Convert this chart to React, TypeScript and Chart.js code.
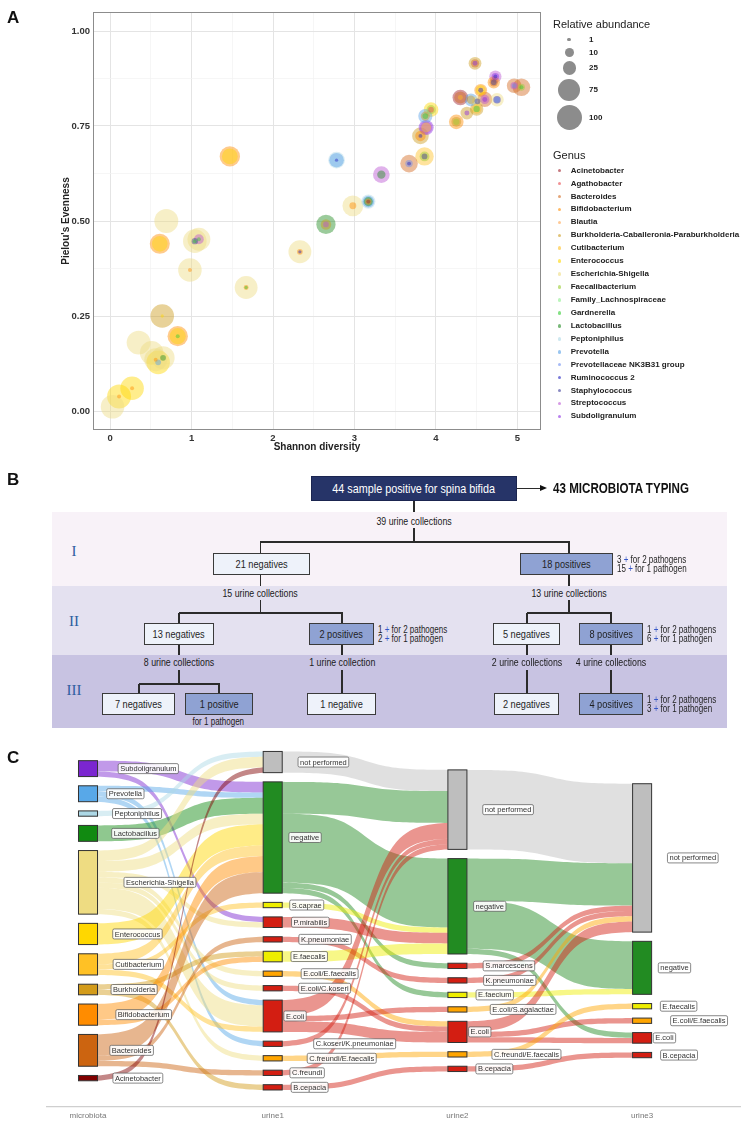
import React, { useEffect, useRef } from 'react';
import { Chart, registerables } from 'chart.js';
Chart.register(...registerables);

const SANS = "'Liberation Sans', Arial, Helvetica, sans-serif";
const NARROW = "'Liberation Sans Narrow', 'Liberation Sans', Arial, sans-serif";
const SERIF = "'Liberation Serif', 'DejaVu Serif', serif";
const SQUEEZE = 0.8;

// ---------------- Panel A data ----------------
const genera = [
  'Acinetobacter', 'Agathobacter', 'Bacteroides', 'Bifidobacterium', 'Blautia',
  'Burkholderia-Caballeronia-Paraburkholderia', 'Cutibacterium', 'Enterococcus',
  'Escherichia-Shigella', 'Faecalibacterium', 'Family_Lachnospiraceae', 'Gardnerella',
  'Lactobacillus', 'Peptoniphilus', 'Prevotella', 'Prevotellaceae NK3B31 group',
  'Ruminococcus 2', 'Staphylococcus', 'Streptococcus', 'Subdoligranulum',
];
const genusColors = [
  '#A0202A', '#E8474C', '#D2691E', '#FF8C00', '#FFA54F',
  '#CD9B1D', '#FFC125', '#FFD700', '#EEDC82', '#9ACD32',
  '#90EE90', '#32CD32', '#228B22', '#ADD8E6', '#56A0E6',
  '#6A8CF0', '#2020C0', '#3A3A9A', '#BA55D3', '#8A2BE2',
];
const sizeBreaks = [1, 10, 25, 75, 100];
const shannonMajorTicks = [0, 1, 2, 3, 4, 5];
const shannonMinorTicks = [0.5, 1.5, 2.5, 3.5, 4.5];
const evennessMajorTicks = [0, 0.25, 0.5, 0.75, 1];
const evennessMinorTicks = [0.125, 0.375, 0.625, 0.875];

const shannon = [
  0.03, 0.11, 0.27, 0.35, 0.51, 0.56, 0.59, 0.65, 0.64, 0.83,
  0.61, 0.69, 0.98, 1.04, 1.09, 1.47, 1.67, 2.33, 2.65, 2.78,
  2.98, 3.17, 3.33, 3.67, 3.86, 3.81, 3.88, 3.87, 3.94, 4.25,
  4.30, 4.38, 4.43, 4.50, 4.51, 4.60, 4.55, 4.48, 4.73, 4.71,
  4.75, 4.96, 5.05,
];
const evenness = [
  0.011, 0.038, 0.060, 0.180, 0.153, 0.135, 0.128, 0.140, 0.250, 0.197,
  0.440, 0.500, 0.371, 0.447, 0.452, 0.670, 0.325, 0.419, 0.491, 0.660,
  0.540, 0.551, 0.622, 0.651, 0.670, 0.724, 0.746, 0.776, 0.793, 0.761,
  0.825, 0.784, 0.819, 0.795, 0.815, 0.820, 0.844, 0.915, 0.880, 0.865,
  0.819, 0.856, 0.852,
];
// [genus index, relative abundance %]
const composition: [number, number][][] = [
  [[8, 85]], [[7, 88], [3, 1]], [[7, 85], [3, 1]], [[8, 88]], [[8, 85]],
  [[8, 80], [3, 1]], [[7, 85], [14, 3]], [[8, 82], [12, 3]], [[5, 85], [7, 0.5]], [[3, 62], [7, 38], [11, 1]],
  [[3, 60], [7, 35]], [[8, 88]], [[8, 85], [3, 1]], [[8, 85], [17, 4], [11, 1]], [[8, 80], [18, 12], [11, 1]],
  [[3, 62], [7, 36]], [[8, 80], [3, 2], [11, 0.5]], [[8, 80], [3, 3], [16, 0.5]], [[12, 55], [5, 14], [18, 3]], [[13, 40], [14, 30], [16, 0.5]],
  [[8, 65], [3, 5]], [[13, 28], [14, 18], [12, 10], [3, 4], [0, 1]], [[18, 40], [12, 8]], [[2, 45], [15, 6], [16, 1]], [[6, 50], [9, 12], [17, 3]],
  [[5, 40], [3, 14], [16, 1]], [[19, 32], [18, 20], [6, 12]], [[14, 28], [5, 10], [11, 3]], [[7, 30], [9, 10], [1, 3]], [[3, 30], [5, 12], [9, 4]],
  [[0, 35], [2, 20], [6, 2]], [[5, 22], [19, 2]], [[14, 22], [5, 8]], [[5, 25], [6, 12], [11, 4]], [[8, 15], [17, 3]],
  [[2, 32], [18, 10], [19, 2]], [[3, 22], [7, 12], [16, 2]], [[5, 22], [2, 8], [19, 2]], [[18, 20], [19, 6], [16, 1]], [[3, 20], [2, 8], [17, 3]],
  [[8, 25], [16, 6], [15, 3]], [[2, 30], [18, 6], [15, 2]], [[2, 45], [9, 5], [11, 1]],
];

// ---------------- Panel C data ----------------
const sankeyColumns = ['microbiota', 'urine1', 'urine2', 'urine3'];
const microbiotaNodes = [
  'Subdoligranulum', 'Prevotella', 'Peptoniphilus', 'Lactobacillus', 'Escherichia-Shigella',
  'Enterococcus', 'Cutibacterium', 'Burkholderia', 'Bifidobacterium', 'Bacteroides', 'Acinetobacter',
];
const microbiotaColors = [
  '#7B26D0', '#58A8E8', '#ADD8E6', '#118A11', '#EEDC82',
  '#FFD700', '#FFC125', '#D39B1A', '#FF8C00', '#CC6410', '#800000',
];
const urine1Nodes = [
  'not performed', 'negative', 'S.caprae', 'P.mirabilis', 'K.pneumoniae', 'E.faecalis',
  'E.coli/E.faecalis', 'E.coli/C.koseri', 'E.coli', 'C.koseri/K.pneumoniae',
  'C.freundi/E.faecalis', 'C.freundi', 'B.cepacia',
];
const urine2Nodes = [
  'not performed', 'negative', 'S.marcescens', 'K.pneumoniae', 'E.faecium',
  'E.coli/S.agalactiae', 'E.coli', 'C.freundi/E.faecalis', 'B.cepacia',
];
const urine3Nodes = ['not performed', 'negative', 'E.faecalis', 'E.coli/E.faecalis', 'E.coli', 'B.cepacia'];
const yellowResults = ['S.caprae', 'E.faecalis', 'E.faecium'];
const orangeResults = ['E.coli/E.faecalis', 'C.freundi/E.faecalis', 'E.coli/S.agalactiae'];

const linksMicrobiotaUrine1: [string, string, number][] = [
  ['Subdoligranulum', 'negative', 2], ['Subdoligranulum', 'P.mirabilis', 1],
  ['Prevotella', 'negative', 1], ['Prevotella', 'E.coli', 1], ['Prevotella', 'C.koseri/K.pneumoniae', 1],
  ['Peptoniphilus', 'not performed', 1],
  ['Lactobacillus', 'negative', 3],
  ['Escherichia-Shigella', 'not performed', 2], ['Escherichia-Shigella', 'negative', 2],
  ['Escherichia-Shigella', 'P.mirabilis', 1], ['Escherichia-Shigella', 'E.coli/E.faecalis', 1],
  ['Escherichia-Shigella', 'E.coli/C.koseri', 1], ['Escherichia-Shigella', 'E.coli', 4],
  ['Escherichia-Shigella', 'C.freundi/E.faecalis', 1],
  ['Enterococcus', 'negative', 4],
  ['Cutibacterium', 'negative', 2], ['Cutibacterium', 'S.caprae', 1], ['Cutibacterium', 'E.coli', 1],
  ['Burkholderia', 'E.faecalis', 1], ['Burkholderia', 'B.cepacia', 1],
  ['Bifidobacterium', 'negative', 3], ['Bifidobacterium', 'E.faecalis', 1],
  ['Bacteroides', 'negative', 4], ['Bacteroides', 'K.pneumoniae', 1], ['Bacteroides', 'C.freundi', 1],
  ['Acinetobacter', 'not performed', 1],
];
const linksUrine1Urine2: [string, string, number][] = [
  ['not performed', 'not performed', 4],
  ['negative', 'not performed', 6], ['negative', 'negative', 13], ['negative', 'S.marcescens', 1], ['negative', 'E.faecium', 1],
  ['S.caprae', 'negative', 1],
  ['P.mirabilis', 'negative', 2],
  ['K.pneumoniae', 'K.pneumoniae', 1],
  ['E.faecalis', 'negative', 2],
  ['E.coli/E.faecalis', 'E.coli', 1],
  ['E.coli/C.koseri', 'E.coli', 1],
  ['E.coli', 'not performed', 3], ['E.coli', 'E.coli/S.agalactiae', 1], ['E.coli', 'E.coli', 2],
  ['C.koseri/K.pneumoniae', 'not performed', 1],
  ['C.freundi/E.faecalis', 'C.freundi/E.faecalis', 1],
  ['C.freundi', 'not performed', 1],
  ['B.cepacia', 'B.cepacia', 1],
];
const linksUrine2Urine3: [string, string, number][] = [
  ['not performed', 'not performed', 15],
  ['negative', 'not performed', 8], ['negative', 'negative', 9], ['negative', 'E.coli', 1],
  ['S.marcescens', 'not performed', 1],
  ['K.pneumoniae', 'not performed', 1],
  ['E.faecium', 'negative', 1],
  ['E.coli/S.agalactiae', 'not performed', 1],
  ['E.coli', 'not performed', 2], ['E.coli', 'E.coli/E.faecalis', 1], ['E.coli', 'E.coli', 1],
  ['C.freundi/E.faecalis', 'E.faecalis', 1],
  ['B.cepacia', 'B.cepacia', 1],
];

const NODE_GAP = 1.74; // in sample units
const NODE_WIDTH = 0.103; // in column units

// ---------------- helpers ----------------
function hexToRgba(hex: string, a: number) {
  const n = parseInt(hex.slice(1), 16);
  return `rgba(${(n >> 16) & 255},${(n >> 8) & 255},${n & 255},${a})`;
}
function bubbleRadius(a: number) {
  return 0.8 + 1.19 * Math.sqrt(a);
}
function nodeColor(name: string, col: number) {
  if (col === 0) return microbiotaColors[microbiotaNodes.indexOf(name)];
  if (name === 'not performed') return '#BEBEBE';
  if (name === 'negative') return '#228B22';
  if (yellowResults.includes(name)) return '#EEEE00';
  if (orangeResults.includes(name)) return '#FFA500';
  return '#D31E12';
}

function sankeyLayout() {
  const columns = [microbiotaNodes, urine1Nodes, urine2Nodes, urine3Nodes];
  const stages = [linksMicrobiotaUrine1, linksUrine1Urine2, linksUrine2Urine3];
  const counts = columns.map(() => new Map<string, number>());
  stages.forEach((links, s) =>
    links.forEach(([a, b, n]) => {
      counts[s].set(a, (counts[s].get(a) || 0) + n);
      if (s === stages.length - 1) counts[s + 1].set(b, (counts[s + 1].get(b) || 0) + n);
    })
  );
  const nodes = columns.map((names, c) => {
    const total = names.reduce((t, nm) => t + (counts[c].get(nm) || 0), 0);
    let cursor = -(total + NODE_GAP * (names.length - 1)) / 2;
    return names.map((nm) => {
      const v = counts[c].get(nm) || 0;
      const node = { name: nm, col: c, y0: cursor, y1: cursor + v };
      cursor += v + NODE_GAP;
      return node;
    });
  });
  const flows: { stage: number; color: string; ys0: number; ys1: number; yt0: number; yt1: number }[] = [];
  stages.forEach((links, s) => {
    const src = nodes[s];
    const dst = nodes[s + 1];
    const iS = (nm: string) => src.findIndex((n) => n.name === nm);
    const iT = (nm: string) => dst.findIndex((n) => n.name === nm);
    const outOff = src.map((n) => n.y0);
    const inOff = dst.map((n) => n.y0);
    const byOut = [...links].sort((p, q) => iS(p[0]) - iS(q[0]) || iT(p[1]) - iT(q[1]));
    const byIn = [...links].sort((p, q) => iT(p[1]) - iT(q[1]) || iS(p[0]) - iS(q[0]));
    const tPos = new Map<any, number>();
    byIn.forEach((l) => {
      const j = iT(l[1]);
      tPos.set(l, inOff[j]);
      inOff[j] += l[2];
    });
    byOut.forEach((l) => {
      const i = iS(l[0]);
      const ys = outOff[i];
      outOff[i] += l[2];
      const yt = tPos.get(l) as number;
      flows.push({ stage: s, color: nodeColor(l[0], s), ys0: ys, ys1: ys + l[2], yt0: yt, yt1: yt + l[2] });
    });
  });
  return { nodes, flows };
}

function sig(t: number) {
  const k = 5.5;
  const f = (u: number) => 1 / (1 + Math.exp(-k * (2 * u - 1)));
  return (f(t) - f(0)) / (f(1) - f(0));
}

const panelBorder = {
  id: 'panelBorder',
  afterDatasetsDraw(chart: any) {
    const { ctx, chartArea } = chart;
    ctx.save();
    ctx.strokeStyle = '#8c8c8c';
    ctx.lineWidth = 1;
    ctx.strokeRect(chartArea.left + 0.5, chartArea.top + 0.5, chartArea.right - chartArea.left - 1, chartArea.bottom - chartArea.top - 1);
    ctx.restore();
  },
};

const sankeyPlugin = {
  id: 'sankeyPlugin',
  afterDatasetsDraw(chart: any) {
    const { ctx } = chart;
    const xs = chart.scales.x;
    const ys = chart.scales.y;
    const { nodes, flows } = sankeyLayout();
    const halfW = xs.getPixelForValue(NODE_WIDTH / 2) - xs.getPixelForValue(0);
    ctx.save();
    flows.forEach((f) => {
      const x0 = xs.getPixelForValue(f.stage) + halfW;
      const x1 = xs.getPixelForValue(f.stage + 1) - halfW;
      const a0 = ys.getPixelForValue(f.ys0), a1 = ys.getPixelForValue(f.ys1);
      const b0 = ys.getPixelForValue(f.yt0), b1 = ys.getPixelForValue(f.yt1);
      const N = 48;
      ctx.beginPath();
      for (let i = 0; i <= N; i++) {
        const t = i / N;
        const x = x0 + (x1 - x0) * t;
        const y = a0 + (b0 - a0) * sig(t);
        if (i === 0) ctx.moveTo(x, y); else ctx.lineTo(x, y);
      }
      for (let i = N; i >= 0; i--) {
        const t = i / N;
        ctx.lineTo(x0 + (x1 - x0) * t, a1 + (b1 - a1) * sig(t));
      }
      ctx.closePath();
      ctx.fillStyle = hexToRgba(f.color, 0.47);
      ctx.fill();
    });
    nodes.flat().forEach((n) => {
      const cx = xs.getPixelForValue(n.col);
      const top = ys.getPixelForValue(n.y0);
      const bot = ys.getPixelForValue(n.y1);
      ctx.fillStyle = nodeColor(n.name, n.col);
      ctx.fillRect(cx - halfW, top, halfW * 2, bot - top);
      ctx.strokeStyle = '#333';
      ctx.lineWidth = 1;
      ctx.strokeRect(cx - halfW, top, halfW * 2, bot - top);
    });
    ctx.font = `7.5px ${SANS}`;
    ctx.textBaseline = 'middle';
    nodes.flat().forEach((n) => {
      const cx = xs.getPixelForValue(n.col);
      const cy = (ys.getPixelForValue(n.y0) + ys.getPixelForValue(n.y1)) / 2;
      const w = ctx.measureText(n.name).width + 4;
      const h = 10;
      const left = cx + w / 2;
      ctx.beginPath();
      (ctx as any).roundRect(left, cy - h / 2, w, h, 1.5);
      ctx.fillStyle = 'rgba(255,255,255,0.9)';
      ctx.fill();
      ctx.strokeStyle = '#555';
      ctx.lineWidth = 0.7;
      ctx.stroke();
      ctx.fillStyle = '#333';
      ctx.fillText(n.name, left + 2, cy + 0.5);
    });
    ctx.restore();
  },
};

// ---------------- Panel B pieces ----------------
const LINE = '#2b2b2b';
function Narrow({ children, origin = 'center' }: any) {
  return <span style={{ display: 'inline-block', transform: `scaleX(${SQUEEZE})`, transformOrigin: origin, whiteSpace: 'nowrap' }}>{children}</span>;
}
function VLine({ x, y1, y2 }: { x: number; y1: number; y2: number }) {
  return <div style={{ position: 'absolute', left: x - 0.6, top: y1, width: 1.2, height: y2 - y1, background: LINE }} />;
}
function HLine({ y, x1, x2 }: { y: number; x1: number; x2: number }) {
  return <div style={{ position: 'absolute', left: x1, top: y - 0.6, width: x2 - x1, height: 1.2, background: LINE }} />;
}
function CText({ cx, cy, children, size = 11 }: any) {
  return (
    <div style={{ position: 'absolute', left: cx - 100, top: cy - 7, width: 200, height: 14, lineHeight: '14px', textAlign: 'center', fontFamily: NARROW, fontSize: size, color: '#1a1a1a', whiteSpace: 'nowrap' }}>
      <Narrow>{children}</Narrow>
    </div>
  );
}
function Box({ x, y, w, h = 22, pos, children }: any) {
  return (
    <div style={{ position: 'absolute', left: x, top: y, width: w, height: h, boxSizing: 'border-box', border: '1px solid #3a3a3a', background: pos ? '#8FA2D3' : '#EEF2FA', display: 'flex', alignItems: 'center', justifyContent: 'center', fontFamily: NARROW, fontSize: 11.5, color: '#1f1f1f', whiteSpace: 'nowrap' }}>
      <Narrow>{children}</Narrow>
    </div>
  );
}
function Side({ x, y, a, b }: any) {
  const plus = <span style={{ color: '#3556c8' }}>+</span>;
  return (
    <div style={{ position: 'absolute', left: x, top: y, fontFamily: NARROW, fontSize: 10, lineHeight: '9px', color: '#1f1f1f', whiteSpace: 'nowrap' }}>
      <div><Narrow origin="left">{a} {plus} for 2 pathogens</Narrow></div>
      <div><Narrow origin="left">{b} {plus} for 1 pathogen</Narrow></div>
    </div>
  );
}
function Roman({ cy, children }: any) {
  return (
    <div style={{ position: 'absolute', left: 44, top: cy - 9, width: 60, height: 18, lineHeight: '18px', textAlign: 'center', fontFamily: SERIF, fontSize: 15, color: '#2E5D9F' }}>{children}</div>
  );
}

function PanelB() {
  return (
    <>
      <div style={{ position: 'absolute', left: 52, top: 512, width: 675, height: 74, background: '#F8F2F8' }} />
      <div style={{ position: 'absolute', left: 52, top: 586, width: 675, height: 69, background: '#E4E1F0' }} />
      <div style={{ position: 'absolute', left: 52, top: 655, width: 675, height: 73, background: '#C8C3E2' }} />
      <div style={{ position: 'absolute', left: 311, top: 476, width: 206, height: 25, boxSizing: 'border-box', background: '#263468', border: '1px solid #1b2550', color: '#fff', display: 'flex', alignItems: 'center', justifyContent: 'center', fontFamily: NARROW, fontSize: 13.5, whiteSpace: 'nowrap' }}>
        <Narrow>44 sample positive for spina bifida</Narrow>
      </div>
      <HLine y={488.5} x1={517} x2={541} />
      <div style={{ position: 'absolute', left: 540, top: 485, width: 0, height: 0, borderLeft: '7px solid #111', borderTop: '3.5px solid transparent', borderBottom: '3.5px solid transparent' }} />
      <div style={{ position: 'absolute', left: 553, top: 479, height: 18, lineHeight: '18px', fontFamily: NARROW, fontWeight: 'bold', fontSize: 14.5, color: '#111', whiteSpace: 'nowrap' }}>
        <Narrow origin="left">43 MICROBIOTA TYPING</Narrow>
      </div>

      <Roman cy={551}>I</Roman>
      <Roman cy={621}>II</Roman>
      <Roman cy={690}>III</Roman>

      <VLine x={414} y1={501} y2={512} />
      <CText cx={414} cy={521}>39 urine collections</CText>
      <VLine x={414} y1={528} y2={542} />
      <HLine y={542} x1={260} x2={570} />
      <VLine x={260.5} y1={542} y2={553} />
      <VLine x={569} y1={542} y2={553} />
      <Box x={213} y={553} w={97}>21 negatives</Box>
      <Box x={520} y={553} w={93} pos>18 positives</Box>
      <Side x={617} y={555} a="3" b="15" />
      <VLine x={260.5} y1={575} y2={586} />
      <VLine x={569} y1={575} y2={586} />

      <CText cx={260.5} cy={593}>15 urine collections</CText>
      <CText cx={569} cy={593}>13 urine collections</CText>
      <VLine x={260.5} y1={600} y2={613} />
      <VLine x={569} y1={600} y2={613} />
      <HLine y={613} x1={178.5} x2={342.5} />
      <HLine y={613} x1={526.5} x2={611.5} />
      <VLine x={179} y1={613} y2={623} />
      <VLine x={342} y1={613} y2={623} />
      <VLine x={527} y1={613} y2={623} />
      <VLine x={611} y1={613} y2={623} />
      <Box x={144} y={623} w={70}>13 negatives</Box>
      <Box x={309} y={623} w={65} pos>2 positives</Box>
      <Side x={378} y={625} a="1" b="2" />
      <Box x={493} y={623} w={67}>5 negatives</Box>
      <Box x={579} y={623} w={64} pos>8 positives</Box>
      <Side x={647} y={625} a="1" b="6" />
      <VLine x={179} y1={645} y2={655} />
      <VLine x={342} y1={645} y2={655} />
      <VLine x={527} y1={645} y2={655} />
      <VLine x={611} y1={645} y2={655} />

      <CText cx={179} cy={662}>8 urine collections</CText>
      <CText cx={342} cy={662}>1 urine collection</CText>
      <CText cx={527} cy={662}>2 urine collections</CText>
      <CText cx={611} cy={662}>4 urine collections</CText>
      <VLine x={179} y1={670} y2={684} />
      <HLine y={684} x1={138.5} x2={219.5} />
      <VLine x={139} y1={684} y2={693} />
      <VLine x={219} y1={684} y2={693} />
      <VLine x={342} y1={670} y2={693} />
      <VLine x={527} y1={670} y2={693} />
      <VLine x={611} y1={670} y2={693} />
      <Box x={102} y={693} w={73}>7 negatives</Box>
      <Box x={185} y={693} w={68} pos>1 positive</Box>
      <CText cx={218} cy={722} size={10}>for 1 pathogen</CText>
      <Box x={307} y={693} w={69}>1 negative</Box>
      <Box x={494} y={693} w={65}>2 negatives</Box>
      <Box x={579} y={693} w={64} pos>4 positives</Box>
      <Side x={647} y={695} a="1" b="3" />
    </>
  );
}

// ---------------- App ----------------
export default function App() {
  const refA = useRef<HTMLCanvasElement>(null);
  const refC = useRef<HTMLCanvasElement>(null);

  useEffect(() => {
    const circles: { x: number; y: number; a: number; g: number }[] = [];
    shannon.forEach((x, i) => composition[i].forEach(([g, a]) => circles.push({ x, y: evenness[i], a, g })));
    circles.sort((p, q) => q.a - p.a);
    const xTicks = [...shannonMajorTicks, ...shannonMinorTicks].sort((a, b) => a - b);
    const yTicks = [...evennessMajorTicks, ...evennessMinorTicks].sort((a, b) => a - b);
    const tickFont = { family: SANS, size: 9.5, weight: 'bold' as const };
    const titleFont = { family: SANS, size: 10, weight: 'bold' as const };

    const chartA = new Chart(refA.current as HTMLCanvasElement, {
      type: 'bubble',
      data: {
        datasets: [
          {
            data: circles.map((c) => ({ x: c.x, y: c.y, r: bubbleRadius(c.a) })),
            backgroundColor: circles.map((c) => hexToRgba(genusColors[c.g], 0.45)),
            borderWidth: 0,
            hoverRadius: 0,
          } as any,
        ],
      },
      options: {
        responsive: false,
        animation: false,
        events: [],
        layout: { padding: { left: 60, right: 208, top: 12, bottom: 0 } },
        plugins: { legend: { display: false }, tooltip: { enabled: false } },
        scales: {
          x: {
            type: 'linear',
            min: -0.21,
            max: 5.29,
            afterBuildTicks: (s: any) => { s.ticks = xTicks.map((v) => ({ value: v })); },
            afterFit: (s: any) => { s.height = 30; },
            ticks: {
              autoSkip: false, maxRotation: 0, padding: 3, color: '#333', font: tickFont,
              callback: (v: any) => (shannonMajorTicks.includes(Number(v)) ? String(v) : ''),
            },
            grid: {
              drawTicks: false,
              color: (c: any) => (shannonMajorTicks.includes(c.tick?.value) ? '#e4e4e4' : '#f2f2f2'),
              lineWidth: (c: any) => (shannonMajorTicks.includes(c.tick?.value) ? 1 : 0.7),
            },
            border: { display: false },
            title: { display: true, text: 'Shannon diversity', color: '#222', font: titleFont, padding: { top: 0, bottom: 7 } },
          },
          y: {
            type: 'linear',
            min: -0.05,
            max: 1.05,
            afterBuildTicks: (s: any) => { s.ticks = yTicks.map((v) => ({ value: v })); },
            afterFit: (s: any) => { s.width = 33; },
            ticks: {
              autoSkip: false, padding: 3, color: '#333', font: tickFont,
              callback: (v: any) => (evennessMajorTicks.includes(Number(v)) ? Number(v).toFixed(2) : ''),
            },
            grid: {
              drawTicks: false,
              color: (c: any) => (evennessMajorTicks.includes(c.tick?.value) ? '#e4e4e4' : '#f2f2f2'),
              lineWidth: (c: any) => (evennessMajorTicks.includes(c.tick?.value) ? 1 : 0.7),
            },
            border: { display: false },
            title: { display: true, text: "Pielou's Evenness", color: '#222', font: titleFont, padding: { top: 0, bottom: 0 } },
          },
        },
      },
      plugins: [panelBorder],
    });

    const chartC = new Chart(refC.current as HTMLCanvasElement, {
      type: 'scatter',
      data: { datasets: [{ data: [], pointRadius: 0 }] },
      options: {
        responsive: false,
        animation: false,
        events: [],
        layout: { padding: { left: 47, right: 9, top: 10, bottom: 0 } },
        plugins: { legend: { display: false }, tooltip: { enabled: false } },
        scales: {
          x: {
            type: 'linear',
            min: -0.222,
            max: 3.53,
            afterBuildTicks: (s: any) => { s.ticks = sankeyColumns.map((_, i) => ({ value: i })); },
            afterFit: (s: any) => { s.height = 20; },
            ticks: {
              autoSkip: false, maxRotation: 0, padding: 4, color: '#777', font: { family: SANS, size: 8 },
              callback: (v: any) => sankeyColumns[Number(v)] ?? '',
            },
            grid: { display: false, drawTicks: false },
            border: { display: true, color: '#cfcfcf', width: 1.2 },
          },
          y: { type: 'linear', display: false, reverse: true, min: -34.1, max: 35.15 },
        },
      },
      plugins: [sankeyPlugin],
    });

    return () => {
      chartA.destroy();
      chartC.destroy();
    };
  }, []);

  let cursor = 33;
  const sizeKeys = sizeBreaks.map((b) => {
    const r = bubbleRadius(b);
    const h = Math.max(13, 2 * r + 4);
    const cy = cursor + h / 2;
    cursor += h;
    return { b, r, cy };
  });

  const panelLetter = (t: string, top: number) => (
    <div style={{ position: 'absolute', left: 7, top, fontFamily: SANS, fontWeight: 'bold', fontSize: 17, color: '#111' }}>{t}</div>
  );

  return (
    <div style={{ position: 'absolute', left: 0, top: 0, width: 749, height: 1127, background: '#fff', overflow: 'hidden' }}>
      <canvas ref={refA} width={749} height={460} style={{ position: 'absolute', left: 0, top: 0, width: 749, height: 460 }} />
      {panelLetter('A', 8)}
      <div style={{ position: 'absolute', left: 553, top: 18, fontFamily: SANS, fontSize: 11, color: '#222', whiteSpace: 'nowrap' }}>Relative abundance</div>
      {sizeKeys.map((k) => (
        <React.Fragment key={k.b}>
          <div style={{ position: 'absolute', left: 569.3 - k.r, top: k.cy - k.r, width: 2 * k.r, height: 2 * k.r, borderRadius: '50%', background: '#8c8c8c' }} />
          <div style={{ position: 'absolute', left: 589, top: k.cy - 6, height: 12, lineHeight: '12px', fontFamily: SANS, fontWeight: 'bold', fontSize: 8, color: '#222' }}>{k.b}</div>
        </React.Fragment>
      ))}
      <div style={{ position: 'absolute', left: 553, top: 149, fontFamily: SANS, fontSize: 11, color: '#222' }}>Genus</div>
      {genera.map((g, i) => {
        const cy = 170.7 + i * 12.93;
        return (
          <React.Fragment key={g}>
            <div style={{ position: 'absolute', left: 559.3 - 1.8, top: cy - 1.8, width: 3.6, height: 3.6, borderRadius: '50%', background: hexToRgba(genusColors[i], 0.6) }} />
            <div style={{ position: 'absolute', left: 570.7, top: cy - 6, height: 12, lineHeight: '12px', fontFamily: SANS, fontWeight: 'bold', fontSize: 8, color: '#222', whiteSpace: 'nowrap' }}>{g}</div>
          </React.Fragment>
        );
      })}

      {panelLetter('B', 470)}
      <PanelB />

      {panelLetter('C', 748)}
      <canvas ref={refC} width={749} height={397} style={{ position: 'absolute', left: 0, top: 730, width: 749, height: 397 }} />
    </div>
  );
}
